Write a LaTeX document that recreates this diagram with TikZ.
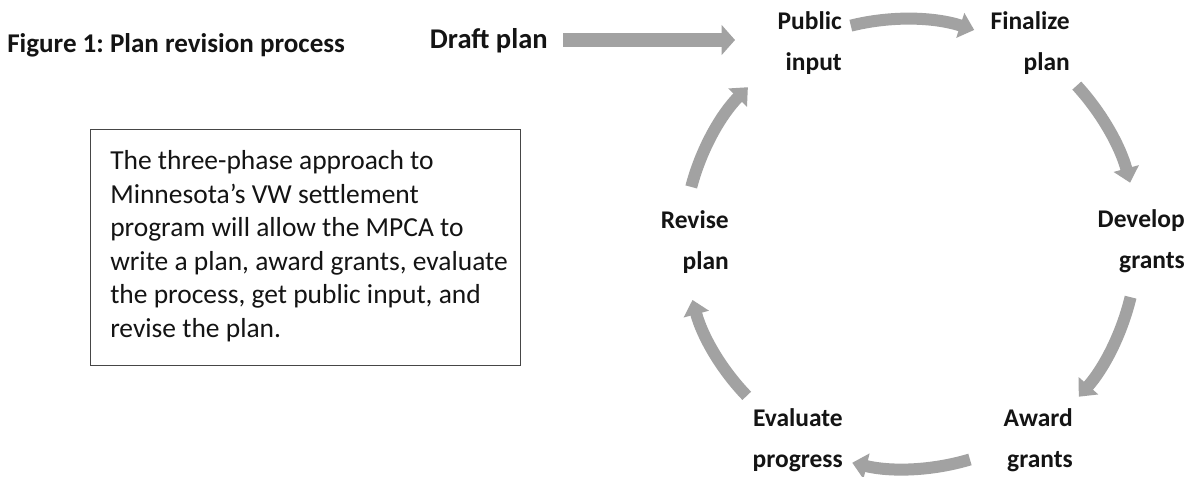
\documentclass[tikz,border=0pt]{standalone}
\usepackage{fontspec}
\setmainfont{Carlito}
\frenchspacing
\usetikzlibrary{arrows.meta,calc}
\definecolor{arrgray}{RGB}{162,162,162}
\definecolor{boxline}{RGB}{70,70,70}
\definecolor{ink}{RGB}{20,20,20}
\begin{document}
\begin{tikzpicture}[x=0.75pt,y=-0.75pt,
  lab/.style={font=\fontsize{19.1pt}{30.75pt}\selectfont\bfseries, align=right, inner sep=0pt, anchor=base east, text=ink},
  cyc/.style={draw=arrgray, line width=9pt, -{Triangle[length=11pt,width=19pt]}},
  draftarr/.style={draw=arrgray, line width=10pt, -{Triangle[length=10pt,width=22pt]}},
]
\useasboundingbox[fill=white] (0,0) rectangle (1190,476);
\coordinate (c) at (905,243);

% title and draft plan
\node[font=\fontsize{20.3pt}{24pt}\selectfont\bfseries, text=ink, inner sep=0pt, anchor=base west] (title) at (7,52) {Figure 1: Plan revision process};
\node[font=\fontsize{21.4pt}{26pt}\selectfont\bfseries, text=ink, inner sep=0pt, anchor=base east] (draft) at (548,48) {Draft plan};

% cycle labels (anchor = baseline of the second line)
\node[lab] (pub) at (842,70) {Public\\input};
\node[lab] (fin) at (1070,70) {Finalize\\plan};
\node[lab] (dev) at (1185,268) {Develop\\grants};
\node[lab] (awd) at (1073,467) {Award\\grants};
\node[lab] (eva) at (843,467) {Evaluate\\progress};
\node[lab] (rev) at (729,269) {Revise\\plan};

% text box
\node[draw=boxline, line width=1.1pt, minimum width=430*0.75pt, minimum height=236*0.75pt, anchor=north west, inner sep=0pt] (box) at (90,129) {};
\node[font=\fontsize{20.6pt}{25.1pt}\selectfont, text=ink, align=left, inner sep=0pt, anchor=base west] (boxtext) at (110,337)
  {The three-phase approach to\\Minnesota’s VW settlement\\program will allow the MPCA to\\write a plan, award grants, evaluate\\the process, get public input, and\\revise the plan.};

% arrows
\coordinate (d1) at (563,40);
\coordinate (d2) at (735,40);
\draw[draftarr] (d1) -- (d2);

\coordinate (a1) at ($(c)+(-104:224)$);
\draw[cyc] (a1) arc[start angle=-104, end angle=-72, radius=224];
\coordinate (a2) at ($(c)+(-42.5:233)$);
\draw[cyc] (a2) arc[start angle=-42.5, end angle=-15, radius=233];
\coordinate (a3) at ($(c)+(13.5:232)$);
\draw[cyc] (a3) arc[start angle=13.5, end angle=41.5, radius=232];
\coordinate (a4) at ($(c)+(73.3:226)$);
\draw[cyc] (a4) arc[start angle=73.3, end angle=103.5, radius=226];
\coordinate (a5) at ($(c)+(136:220)$);
\draw[cyc] (a5) arc[start angle=136, end angle=165, radius=220];
\coordinate (a6) at ($(c)+(-165.3:221)$);
\draw[cyc] (a6) arc[start angle=-165.3, end angle=-135.5, radius=223];
\end{tikzpicture}
\end{document}
